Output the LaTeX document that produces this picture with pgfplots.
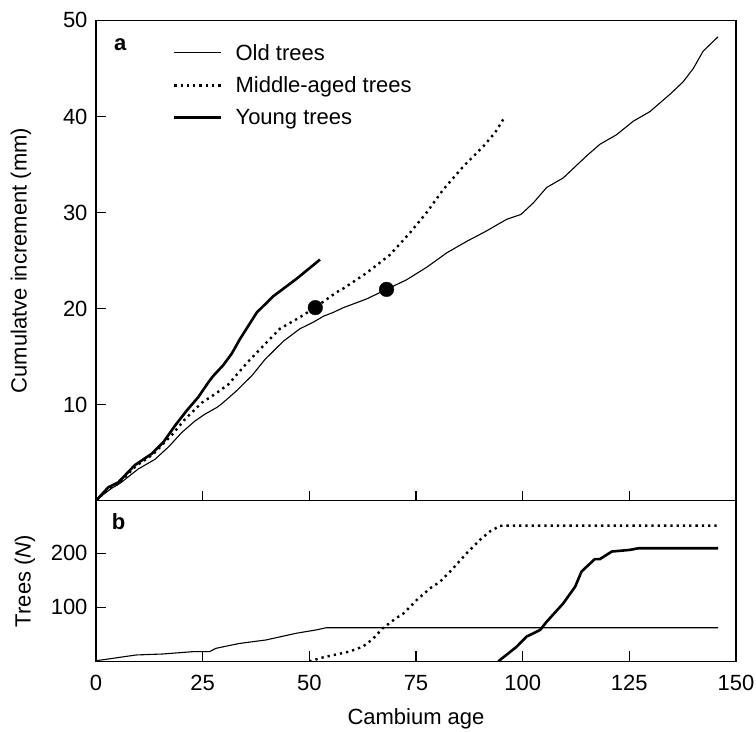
\documentclass[border=0pt]{standalone}
\usepackage{pgfplots}
\pgfplotsset{compat=1.18}
\usepackage{fontspec}
\setmainfont{Liberation Sans}
\newcommand{\fs}{\fontsize{22bp}{26bp}\selectfont}
\begin{document}
\begin{tikzpicture}
\useasboundingbox (-96bp,-231.3bp) rectangle (660bp,500.7bp);
\pgfplotsset{
  common/.style={
    scale only axis, width=640bp, xmin=0, xmax=150,
    axis line style={line width=1.5bp},
    tick align=inside, major tick length=10bp,
    every tick/.style={black, line width=1.2bp},
    xtick pos=left, ytick pos=left,
    tick label style={font=\fs},
    /pgf/number format/assume math mode=true,
    yticklabel style={anchor=east, xshift=-5bp},
    xticklabel style={anchor=base, yshift=-29.4bp},
    label style={font=\fs},
  },
  old/.style={black, line width=1.1bp},
  mid/.style={black, line width=2.4bp, dash pattern=on 2.3bp off 4bp},
  young/.style={black, line width=2.6bp},
}
% ---------- panel a ----------
\begin{axis}[common, at={(0,0)}, anchor=south west, height=480.3bp,
  ymin=0, ymax=50,
  xtick={25,50,75,100,125}, xticklabels={},
  ytick={10,20,30,40,50},
  ylabel={Cumulatve increment (mm)},
  ylabel style={at={([xshift=-75bp]axis description cs:0,0.5)}, anchor=center},
  legend cell align=left,
  legend style={draw=none, fill=none, at={(axis description cs:0.1203,0.9505)},
    anchor=north west, inner sep=0pt, outer sep=0pt, row sep=15bp, column sep=13bp,
    font=\fs, nodes={inner sep=0pt}},
  legend image code/.code={\draw[#1] (0bp,0bp) -- (47bp,0bp);},
]
\addplot[old] coordinates {(0,0) (1,0.4) (3.7,1.3) (5.6,1.8) (9.9,3.3) (13.8,4.3) (17,5.6) (20.1,7.1) (23.2,8.3) (25.5,9.0) (28.3,9.7) (29.5,10.1) (32.6,11.3) (36.5,13.0) (39.6,14.7) (43.9,16.6) (47.8,17.9) (51,18.6) (53.3,19.2) (55.6,19.6) (58,20.1) (63.4,21.0) (68.1,22.0) (72.8,23.0) (77.5,24.3) (82.2,25.8) (86.9,27.0) (91.6,28.1) (94.7,28.9) (96.3,29.3) (99.6,29.8) (102.5,31.0) (105.6,32.6) (109.5,33.6) (115,35.9) (118.1,37.1) (122,38.1) (125.9,39.5) (129.8,40.5) (134.5,42.3) (137.6,43.6) (140,45.0) (142.3,46.8) (145.8,48.3)};
\addlegendentry{Old trees}
\addplot[mid] coordinates {(0,0) (3,1.3) (5.4,1.8) (9.3,3.6) (13.3,4.8) (14.6,5.4) (17.7,6.8) (20.9,8.5) (24.8,10.2) (27.9,11.1) (31,12.1) (35.5,14.4) (39.6,16.3) (43.1,17.9) (47.8,19.1) (51.3,20.1) (56.4,21.7) (58,22.1) (63.4,23.7) (68.9,25.6) (73.6,27.9) (77.5,30.0) (81.4,32.4) (86.1,34.8) (90.8,36.9) (93.5,38.3) (95.6,39.8)};
\addlegendentry{Middle-aged trees}
\addplot[young] coordinates {(0,0) (2.9,1.4) (5.2,1.9) (9.1,3.7) (13.1,4.9) (15.8,6.1) (18.5,7.8) (21.3,9.4) (24,10.8) (26.3,12.3) (27.5,13.0) (29.8,14.1) (31.8,15.3) (33.7,16.8) (35.7,18.2) (37.7,19.6) (41.6,21.3) (47,23.1) (52.5,25.1)};
\addlegendentry{Young trees}
\addplot[only marks, mark=*, mark size=7.3bp, black, forget plot] coordinates {(51.4,20.1) (68.1,22.0)};
\node[anchor=base west, inner sep=0pt, font=\fs\bfseries] at (axis cs:4.2,46.9) {a};
\end{axis}
% ---------- panel b ----------
\begin{axis}[common, at={(0,0)}, anchor=north west, height=160.6bp,
  ymin=0, ymax=297,
  xtick={0,25,50,75,100,125,150},
  ytick={100,200},
  xlabel={Cambium age},
  xlabel style={at={([yshift=-62.7bp]axis description cs:0.5,0)}, anchor=base},
  ylabel={Trees (\textit{N})},
  ylabel style={at={([xshift=-71bp]axis description cs:0,0.5)}, anchor=center},
]
\addplot[old] coordinates {(0,1) (9.4,11.7) (15.6,13.5) (22.7,17.8) (26.6,17.8) (28.1,24) (33.6,33) (39.8,39.4) (46.9,51.8) (51.6,58) (53.9,62) (145.8,62)};
\addplot[mid] coordinates {(50,0) (53.1,7) (59.4,18) (62.5,27) (64.8,40.7) (67.2,61) (70.3,79.6) (72,88) (75.2,113.5) (78.3,135) (80.6,147) (83,166) (86.9,200) (90,224.6) (92.3,240) (94.7,250.5) (96,251) (145.8,251)};
\addplot[young] coordinates {(94.3,0) (98.6,27) (100.9,45.6) (104.1,58) (105.6,73) (109.5,107) (112.3,138) (113.8,166) (116.9,189) (118.1,189) (120.9,203) (125.1,206) (127.1,209) (145.8,209)};
\node[anchor=base west, inner sep=0pt, font=\fs\bfseries] at (axis cs:3.7,244.4) {b};
\end{axis}
\end{tikzpicture}
\end{document}
